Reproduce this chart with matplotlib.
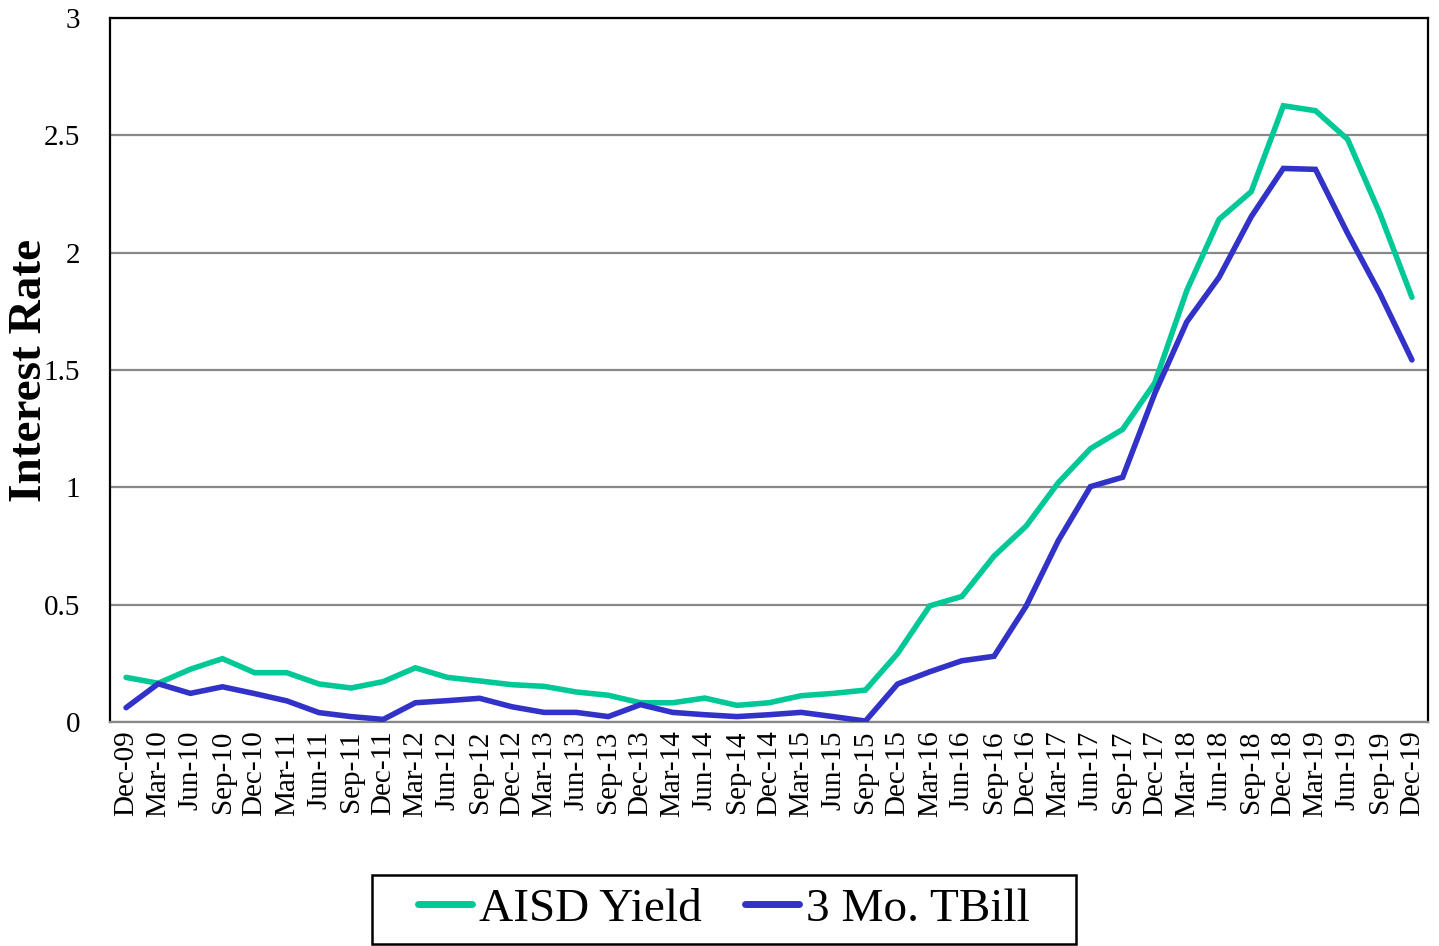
import matplotlib
matplotlib.use("Agg")
import matplotlib.pyplot as plt
from matplotlib.patches import Rectangle

plt.rcParams['font.family'] = ['Liberation Serif', 'DejaVu Serif']

quarters = ["Dec-09", "Mar-10", "Jun-10", "Sep-10", "Dec-10", "Mar-11", "Jun-11", "Sep-11",
            "Dec-11", "Mar-12", "Jun-12", "Sep-12", "Dec-12", "Mar-13", "Jun-13", "Sep-13",
            "Dec-13", "Mar-14", "Jun-14", "Sep-14", "Dec-14", "Mar-15", "Jun-15", "Sep-15",
            "Dec-15", "Mar-16", "Jun-16", "Sep-16", "Dec-16", "Mar-17", "Jun-17", "Sep-17",
            "Dec-17", "Mar-18", "Jun-18", "Sep-18", "Dec-18", "Mar-19", "Jun-19", "Sep-19",
            "Dec-19"]

aisd_yield = [0.19, 0.165, 0.225, 0.27, 0.21, 0.21, 0.162, 0.145, 0.172, 0.231,
              0.19, 0.175, 0.159, 0.152, 0.128, 0.114, 0.082, 0.082, 0.102, 0.071,
              0.082, 0.112, 0.122, 0.136, 0.292, 0.495, 0.535, 0.707, 0.835, 1.02,
              1.165, 1.247, 1.445, 1.84, 2.142, 2.26, 2.626, 2.605, 2.483, 2.168,
              1.81]

tbill_3mo = [0.061, 0.163, 0.122, 0.15, 0.121, 0.09, 0.04, 0.023, 0.011, 0.082,
             0.091, 0.101, 0.065, 0.041, 0.041, 0.023, 0.074, 0.041, 0.031, 0.023,
             0.031, 0.041, 0.023, 0.004, 0.162, 0.214, 0.261, 0.28, 0.494, 0.773,
             1.003, 1.043, 1.40, 1.706, 1.895, 2.153, 2.359, 2.355, 2.082, 1.827,
             1.543]

y_ticks = [0, 0.5, 1, 1.5, 2, 2.5, 3]
y_tick_labels = ["0", "0.5", "1", "1.5", "2", "2.5", "3"]

W, H = 1439, 946
fig = plt.figure(figsize=(W / 100, H / 100), dpi=100)
ax = fig.add_axes([110 / W, 1 - 722 / H, (1428 - 110) / W, (722 - 18) / H])

x = list(range(len(quarters)))
l1, = ax.plot(x, aisd_yield, color="#00C896", lw=4.0, solid_capstyle="round",
              solid_joinstyle="miter", label="AISD Yield", zorder=3)
l2, = ax.plot(x, tbill_3mo, color="#3232C8", lw=4.0, solid_capstyle="round",
              solid_joinstyle="miter", label="3 Mo. TBill", zorder=3)

ax.set_xlim(-0.5, len(quarters) - 0.5)
ax.set_ylim(0, 3)
ax.set_yticks(y_ticks)
ax.set_yticklabels(y_tick_labels, fontsize=21)
ax.set_xticks(x)
ax.set_xticklabels(quarters, rotation=90, fontsize=21)
ax.tick_params(axis='x', length=0, pad=6)
ax.tick_params(axis='y', length=0, pad=21.5)

ax.yaxis.grid(True, color="#888888", lw=1.6, zorder=1)
ax.set_axisbelow(True)
for s in ["left", "top", "right"]:
    ax.spines[s].set_color("black")
    ax.spines[s].set_linewidth(1.6)
ax.spines["bottom"].set_color("#888888")
ax.spines["bottom"].set_linewidth(1.6)

fig.text(30 / W, 1 - 370 / H, "Interest Rate", rotation=90, fontsize=34,
         fontweight="bold", ha="center", va="center")

# legend frame drawn manually
fig.patches.append(Rectangle((372 / W, 1 - 944 / H), (1076 - 372) / W, (944 - 875) / H,
                             transform=fig.transFigure, fill=False, edgecolor="black",
                             lw=1.8, zorder=5))
leg = fig.legend(handles=[l1, l2], loc="center", bbox_to_anchor=(724 / W, 1 - 909.5 / H),
                 ncol=2, fontsize=34, frameon=False,
                 handlelength=1.15, handletextpad=0.15, columnspacing=0.9,
                 borderpad=0.3)
for h in leg.legend_handles:
    h.set_linewidth(5)

fig.savefig("out.png", dpi=100)
